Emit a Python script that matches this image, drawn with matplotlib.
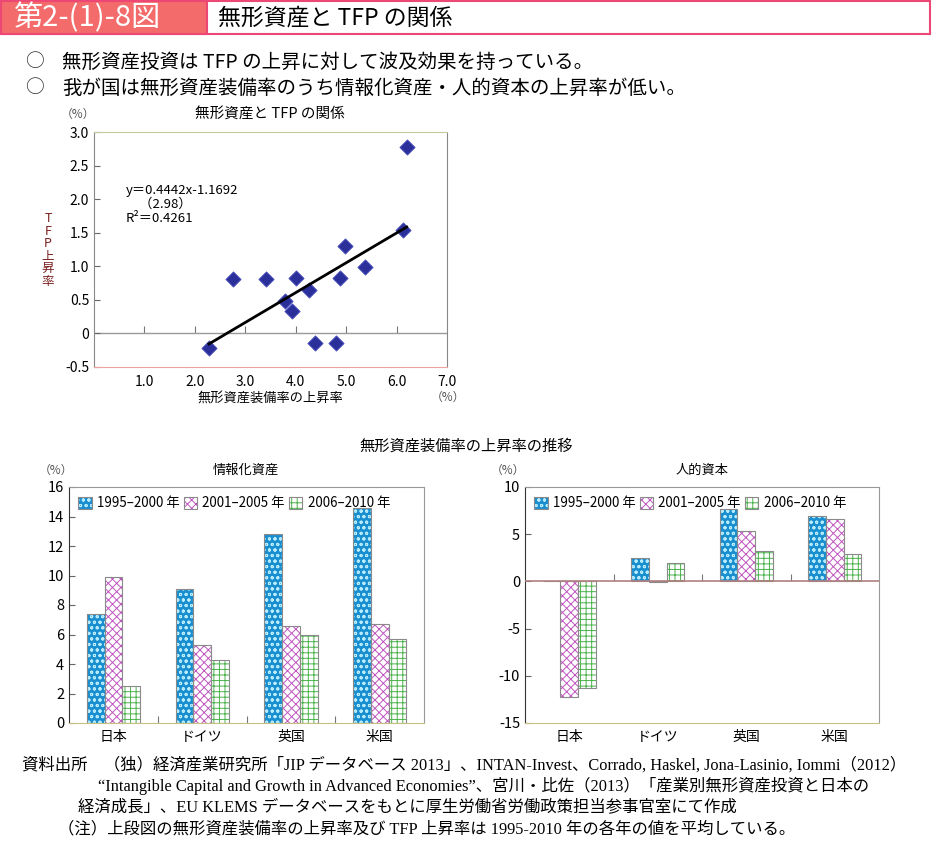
import matplotlib
matplotlib.use("Agg")
import matplotlib.pyplot as plt
from matplotlib.patches import Rectangle
import numpy as np

plt.rcParams['font.family'] = ['Noto Sans CJK JP', 'DejaVu Sans']
plt.rcParams['hatch.linewidth'] = 0.7
plt.rcParams['axes.unicode_minus'] = False

# ---------------- data ----------------
capital_growth = [2.28, 2.76, 3.42, 3.78, 3.93, 4.01, 4.26, 4.38, 4.80, 4.88, 4.98, 5.37, 6.12, 6.20]
tfp_growth = [-0.21, 0.81, 0.81, 0.49, 0.34, 0.82, 0.65, -0.14, -0.14, 0.82, 1.30, 0.99, 1.54, 2.77]
reg_slope = 0.4442
reg_intercept = -1.1692

countries = ["日本", "ドイツ", "英国", "米国"]
periods = ["1995–2000 年", "2001–2005 年", "2006–2010 年"]
info_assets = {
    "1995–2000 年": [7.4, 9.1, 12.8, 14.6],
    "2001–2005 年": [9.9, 5.3, 6.6, 6.7],
    "2006–2010 年": [2.5, 4.3, 5.95, 5.7],
}
human_capital = {
    "1995–2000 年": [0.0, 2.45, 7.7, 6.9],
    "2001–2005 年": [-12.2, -0.1, 5.3, 6.6],
    "2006–2010 年": [-11.3, 2.0, 3.2, 2.85],
}

W, H = 932, 856
fig = plt.figure(figsize=(W / 100, H / 100), dpi=100)


def fx(x):
    return x / W


def fy(y):
    return 1 - y / H


def add_ax(l, t, r, b):
    return fig.add_axes([fx(l), fy(b), (r - l) / W, (b - t) / H])


# ---------------- header ----------------
pink_fill = '#f46b6b'
pink_edge = '#ec4775'
fig.patches.append(Rectangle((fx(1), fy(34)), fx(929), (33) / H, transform=fig.transFigure,
                             facecolor='white', edgecolor=pink_edge, lw=1.5))
fig.patches.append(Rectangle((fx(1), fy(34)), fx(206), (33) / H, transform=fig.transFigure,
                             facecolor=pink_fill, edgecolor=pink_edge, lw=1.5))
fig.text(fx(13), fy(18), "第2-(1)-8図", color='white', fontsize=21,
         va='center', ha='left')
fig.text(fx(218), fy(18), "無形資産と TFP の関係", color='black', fontsize=16.5,
         va='center', ha='left')

fig.text(fx(25), fy(62), "○", fontsize=13.5, va='center', ha='left', color='#333333')
fig.text(fx(62), fy(62), "無形資産投資は TFP の上昇に対して波及効果を持っている。", fontsize=14,
         va='center', ha='left')
fig.text(fx(25), fy(88), "○", fontsize=13.5, va='center', ha='left', color='#333333')
fig.text(fx(62), fy(88), "我が国は無形資産装備率のうち情報化資産・人的資本の上昇率が低い。", fontsize=14,
         va='center', ha='left')

# ---------------- scatter ----------------
ax = add_ax(94, 132, 447, 367)
ax.set_xlim(0, 7)
ax.set_ylim(-0.5, 3.0)
ax.scatter(capital_growth, tfp_growth, marker='D', s=60, color='#2b2f9a',
           edgecolor='#4a50c0', linewidth=0.6, zorder=3)
xs = np.array([min(capital_growth), max(capital_growth)])
ax.plot(xs, reg_slope * xs + reg_intercept, color='black', lw=2, zorder=4)
ax.axhline(0, color='#999999', lw=1, zorder=1)
ax.set_xticks([1, 2, 3, 4, 5, 6, 7])
ax.set_xticklabels(["1.0", "2.0", "3.0", "4.0", "5.0", "6.0", "7.0"])
ax.set_yticks([-0.5, 0, 0.5, 1.0, 1.5, 2.0, 2.5, 3.0])
ax.set_yticklabels(["-0.5", "0", "0.5", "1.0", "1.5", "2.0", "2.5", "3.0"])
ax.tick_params(axis='x', length=0, labelsize=10, pad=6)
ax.tick_params(axis='y', direction='in', length=4, labelsize=10, color='#666666')
sec = ax.secondary_xaxis(0, transform=ax.transData)
sec.set_xticks([1, 2, 3, 4, 5, 6])
sec.tick_params(direction='in', length=5, labelbottom=False, color='#777777')
sec.spines['bottom'].set_visible(False)
for s in ['left', 'right']:
    ax.spines[s].set_color('#888888')
ax.spines['top'].set_color('#c8c8a0')
ax.spines['bottom'].set_color('#f0a0a0')
ax.text(0.09, 0.78, "y＝0.4442x-1.1692\n　（2.98）\nR²＝0.4261", transform=ax.transAxes,
        fontsize=9.5, va='top', ha='left', linespacing=1.1)

fig.text(fx(270), fy(114), "無形資産と TFP の関係", fontsize=10.5, ha='center', va='center')
fig.text(fx(78), fy(114), "（%）", fontsize=8.5, ha='center', va='center', color='#555555')
fig.text(fx(48), fy(250), "\n".join(["T", "F", "P", "上", "昇", "率"]), fontsize=9,
         ha='center', va='center', color='#7a2020', linespacing=0.95)
fig.text(fx(270), fy(398), "無形資産装備率の上昇率", fontsize=9.5, ha='center', va='center')
fig.text(fx(448), fy(397), "（%）", fontsize=8.5, ha='center', va='center', color='#555555')

# ---------------- bar charts ----------------
fig.text(fx(466), fy(446), "無形資産装備率の上昇率の推移", fontsize=11, ha='center', va='center')

styles = [
    dict(face='#1a8fd0', hatch='ooo', hcol='#b8ecff'),
    dict(face='white', hatch='xxxx', hcol='#c055c0'),
    dict(face='white', hatch='+++', hcol='#4cb24c'),
]


def bar_chart(ax, data, ylim, yticks, zero_line):
    x = np.arange(len(countries))
    width = 0.2
    handles = []
    for i, p in enumerate(periods):
        st = styles[i]
        pos = x + (i - 1) * width
        b1 = ax.bar(pos, data[p], width, color=st['face'], hatch=st['hatch'],
                    edgecolor=st['hcol'], linewidth=0, zorder=2)
        b2 = ax.bar(pos, data[p], width, fill=False, edgecolor='#8a8a8a', linewidth=0.8, zorder=3)
        handles.append((b1[0], b2[0]))
    ax.set_xlim(-0.5, len(countries) - 0.5)
    ax.set_ylim(*ylim)
    ax.set_yticks(yticks)
    ax.set_xticks(x)
    ax.set_xticklabels(countries)
    ax.tick_params(axis='x', length=0, labelsize=10, pad=5)
    ax.tick_params(axis='y', direction='in', length=4, labelsize=10.5, color='#666666')
    ax.spines['left'].set_color('#333333')
    ax.spines['right'].set_color('#999999')
    ax.spines['top'].set_color('#999999')
    ax.spines['bottom'].set_color('#c8c080')
    if zero_line:
        ax.axhline(0, color='#b08080', lw=1.2, zorder=4)
    sec = ax.secondary_xaxis(0, transform=ax.transData)
    sec.set_xticks([0.5, 1.5, 2.5])
    sec.tick_params(direction='in', length=5, labelbottom=False, color='#777777')
    sec.spines['bottom'].set_visible(False)
    ax.legend(handles, periods, loc='upper left', ncol=3, frameon=False,
              fontsize=9.6, handlelength=1.0, handleheight=1.0, handletextpad=0.4,
              columnspacing=0.3, borderaxespad=0.3, bbox_to_anchor=(0.0, 1.0))
    return ax


ax1 = add_ax(69, 487, 424, 723)
bar_chart(ax1, info_assets, (0, 16), [0, 2, 4, 6, 8, 10, 12, 14, 16], False)
fig.text(fx(246), fy(470), "情報化資産", fontsize=9.5, ha='center', va='center')
fig.text(fx(56), fy(470), "（%）", fontsize=8.5, ha='center', va='center', color='#555555')

ax2 = add_ax(525, 487, 879, 723)
bar_chart(ax2, human_capital, (-15, 10), [-15, -10, -5, 0, 5, 10], True)
fig.text(fx(702), fy(470), "人的資本", fontsize=9.5, ha='center', va='center')
fig.text(fx(508), fy(470), "（%）", fontsize=8.5, ha='center', va='center', color='#555555')

# ---------------- footer ----------------
serif = ['Liberation Serif', 'Noto Sans CJK JP']
fs = 11.8
fig.text(fx(22), fy(765), "資料出所　（独）経済産業研究所「JIP データベース 2013」、INTAN-Invest、Corrado, Haskel, Jona-Lasinio, Iommi（2012）",
         fontsize=fs, family=serif, ha='left', va='center')
fig.text(fx(98), fy(786), "“Intangible Capital and Growth in Advanced Economies”、宮川・比佐（2013）「産業別無形資産投資と日本の",
         fontsize=fs, family=serif, ha='left', va='center')
fig.text(fx(78), fy(807), "経済成長」、EU KLEMS データベースをもとに厚生労働省労働政策担当参事官室にて作成",
         fontsize=fs, family=serif, ha='left', va='center')
fig.text(fx(58), fy(829), "（注）上段図の無形資産装備率の上昇率及び TFP 上昇率は 1995-2010 年の各年の値を平均している。",
         fontsize=fs, family=serif, ha='left', va='center')

fig.savefig("out.png", dpi=100)
